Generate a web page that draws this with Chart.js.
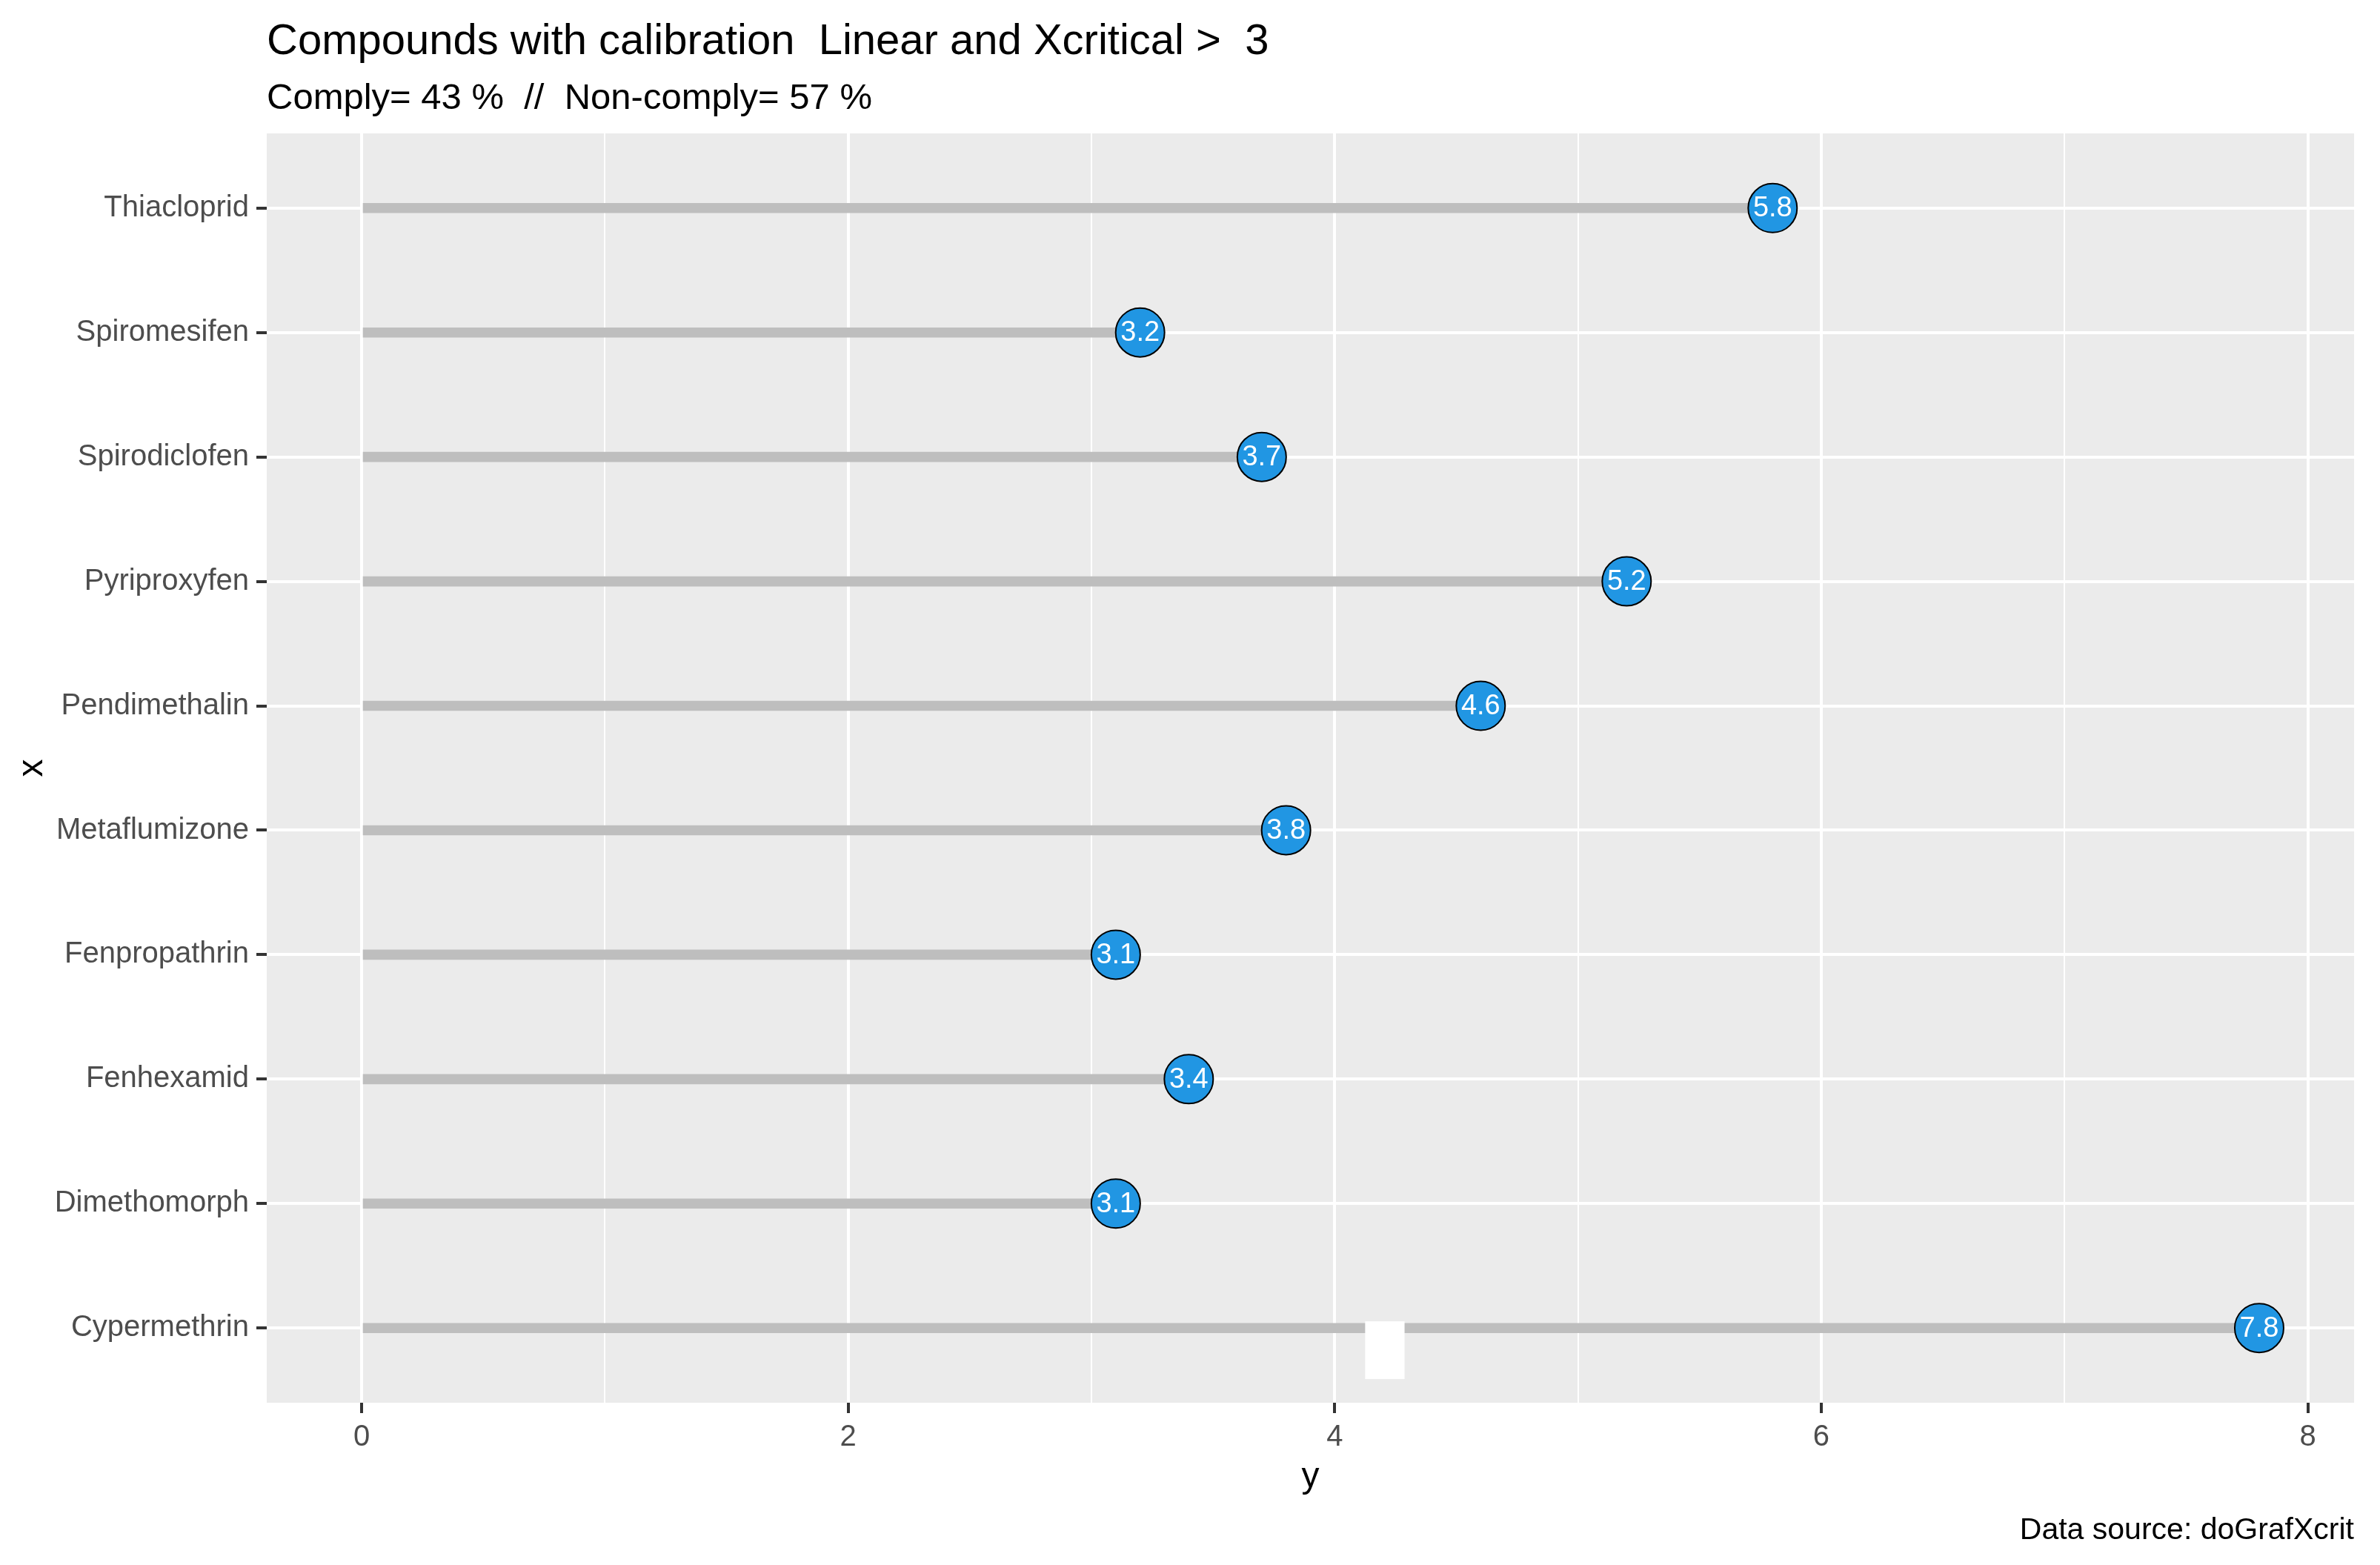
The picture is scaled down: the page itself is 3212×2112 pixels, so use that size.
<!DOCTYPE html>
<html>
<head>
<meta charset="utf-8">
<script src="https://cdn.jsdelivr.net/npm/chart.js@4.4.1/dist/chart.umd.min.js"></script>
<style>
  html, body { margin: 0; padding: 0; background: #fff; }
  #wrap { width: 3212px; height: 2112px; position: relative; }
</style>
</head>
<body>
<div id="wrap"><canvas id="xcritChart"></canvas></div>
<script>
// Compounds, bottom row first (ggplot draws the first level at the bottom)
const compounds = ['Cypermethrin', 'Dimethomorph', 'Fenhexamid', 'Fenpropathrin', 'Metaflumizone',
                   'Pendimethalin', 'Pyriproxyfen', 'Spirodiclofen', 'Spiromesifen', 'Thiacloprid'];
const xcritical = [7.8, 3.1, 3.4, 3.1, 3.8, 4.6, 5.2, 3.7, 3.2, 5.8];

// x axis: every integer gets a grid line, only even ones a label
const xTicks = [0, 1, 2, 3, 4, 5, 6, 7, 8];
const xTickLabels = ['0', '', '2', '', '4', '', '6', '', '8'];

const titleText = 'Compounds with calibration  Linear and Xcritical >  3';
const subtitleText = 'Comply= 43 %  //  Non-comply= 57 %';
const captionText = 'Data source: doGrafXcrit';

const FONT = "'Liberation Sans', Arial, sans-serif";

const rows = compounds.map((name, i) => ({ x: xcritical[i], y: i }));

// grey panel behind the grid
const panelBg = {
  id: 'panelBg',
  beforeDraw(chart) {
    const { ctx, chartArea: a } = chart;
    ctx.save();
    ctx.fillStyle = '#EBEBEB';
    ctx.fillRect(a.left, a.top, a.right - a.left, a.bottom - a.top);
    ctx.restore();
  }
};

// value labels inside the dots, plus the white patch seen on the bottom row
const dotLabels = {
  id: 'dotLabels',
  afterDatasetsDraw(chart) {
    const { ctx, scales } = chart;
    ctx.save();

    // white patch just under the Cypermethrin stem
    const px0 = scales.x.getPixelForValue(4.125);
    const px1 = scales.x.getPixelForValue(4.287);
    const py0 = scales.y.getPixelForValue(0.054);
    const py1 = scales.y.getPixelForValue(-0.41);
    ctx.fillStyle = '#FFFFFF';
    ctx.fillRect(px0, py0, px1 - px0, py1 - py0);

    const meta = chart.getDatasetMeta(0);
    ctx.fillStyle = '#FFFFFF';
    ctx.font = '38px ' + FONT;
    ctx.textAlign = 'center';
    ctx.textBaseline = 'middle';
    meta.data.forEach((pt, i) => {
      ctx.fillText(xcritical[i].toFixed(1), pt.x, pt.y + 1);
    });
    ctx.restore();
  }
};

// titles, axis titles and caption
const textBits = {
  id: 'textBits',
  afterDraw(chart) {
    const { ctx, chartArea: a } = chart;
    ctx.save();
    ctx.fillStyle = '#000000';
    ctx.textBaseline = 'alphabetic';
    ctx.textAlign = 'left';
    ctx.font = '58px ' + FONT;
    ctx.fillText(titleText, a.left, 73);
    ctx.font = '49px ' + FONT;
    ctx.fillText(subtitleText, a.left, 147);

    ctx.font = '48px ' + FONT;
    ctx.textAlign = 'center';
    ctx.fillText('y', (a.left + a.right) / 2, 2007);

    ctx.save();
    ctx.translate(57, (a.top + a.bottom) / 2);
    ctx.rotate(-Math.PI / 2);
    ctx.fillText('x', 0, 0);
    ctx.restore();

    ctx.font = '41px ' + FONT;
    ctx.textAlign = 'right';
    ctx.fillText(captionText, a.right, 2077);
    ctx.restore();
  }
};

const ctx = document.getElementById('xcritChart').getContext('2d');
new Chart(ctx, {
  type: 'bar',
  data: {
    datasets: [
      {
        type: 'scatter',
        data: rows,
        pointRadius: 33,
        pointHoverRadius: 33,
        pointBackgroundColor: '#2196E3',
        pointBorderColor: '#000000',
        pointBorderWidth: 2,
        order: 0
      },
      {
        type: 'bar',
        indexAxis: 'y',
        data: rows,
        backgroundColor: '#BEBEBE',
        barThickness: 13,
        order: 1
      }
    ]
  },
  options: {
    responsive: true,
    maintainAspectRatio: false,
    animation: false,
    devicePixelRatio: 1,
    layout: { padding: { top: 180, right: 35, left: 0, bottom: 0 } },
    plugins: {
      legend: { display: false },
      tooltip: { enabled: false }
    },
    scales: {
      x: {
        type: 'linear',
        min: -0.39,
        max: 8.19,
        offset: false,
        afterBuildTicks: s => { s.ticks = xTicks.map(v => ({ value: v })); },
        afterFit: s => { s.height = 219; },
        border: { display: false },
        grid: {
          offset: false,
          color: '#FFFFFF',
          lineWidth: c => (c.tick && c.tick.value % 2 === 0 ? 4 : 2),
          tickColor: c => (c.tick && c.tick.value % 2 === 0 ? '#333333' : 'rgba(0,0,0,0)'),
          tickWidth: 4,
          tickLength: 14
        },
        ticks: {
          autoSkip: false,
          maxRotation: 0,
          padding: 9,
          color: '#4D4D4D',
          font: { family: FONT, size: 40 },
          callback: (v, i) => xTickLabels[xTicks.indexOf(v)]
        }
      },
      y: {
        type: 'linear',
        min: -0.6,
        max: 9.6,
        offset: false,
        afterBuildTicks: s => { s.ticks = compounds.map((c, i) => ({ value: i })); },
        afterFit: s => { s.width = 360; },
        border: { display: false },
        grid: {
          offset: false,
          color: '#FFFFFF',
          lineWidth: 4,
          tickColor: '#333333',
          tickWidth: 4,
          tickLength: 14
        },
        ticks: {
          autoSkip: false,
          padding: 10,
          color: '#4D4D4D',
          font: { family: FONT, size: 40 },
          callback: v => compounds[v]
        }
      }
    }
  },
  plugins: [panelBg, dotLabels, textBits]
});
</script>
</body>
</html>
